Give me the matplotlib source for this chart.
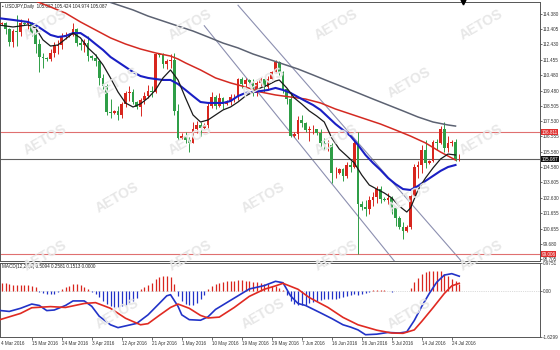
import numpy as np
import matplotlib.pyplot as plt
import matplotlib.transforms as mtransforms

plt.rcParams['font.family'] = ['Liberation Sans', 'DejaVu Sans']

# USDJPY daily, 4 Mar 2016 - 26 Jul 2016 (broker with Sunday bars)
first_open = 113.85
closes = [113.77, 113.80, 113.40, 112.62, 113.30, 113.25, 113.80, 113.75, 113.80, 113.15,
          112.45, 111.60, 111.55, 111.50, 111.90, 112.35, 112.40, 113.00, 113.00, 113.05,
          113.40, 112.55, 112.40, 112.55, 111.70, 111.55, 111.35, 110.30, 109.75, 108.10,
          108.05, 108.15, 107.95, 108.60, 109.35, 109.40, 108.75, 108.40, 108.85, 109.15,
          109.45, 109.40, 111.80, 111.75, 111.15, 111.40, 111.45, 108.15, 106.45, 106.60,
          106.30, 106.10, 107.00, 107.25, 107.10, 107.30, 108.50, 109.10, 108.50, 109.00,
          108.60, 108.75, 109.05, 109.05, 110.20, 109.90, 110.15, 110.05, 109.30, 109.95,
          110.20, 109.70, 110.25, 110.65, 111.30, 110.70, 109.55, 108.95, 106.55, 106.70,
          107.60, 107.40, 106.95, 107.00, 107.00, 106.75, 106.10, 106.00, 106.00, 104.20,
          104.20, 104.45, 104.00, 104.75, 104.60, 106.10, 102.25, 102.00, 101.90, 102.50,
          102.70, 103.20, 102.55, 102.50, 102.60, 101.95, 101.35, 100.75, 100.50, 100.75,
          102.75, 104.60, 104.70, 105.70, 104.85, 104.95, 106.20, 106.15, 107.05, 105.80,
          106.10, 106.20, 105.08, 105.087]
highs = [114.08, 113.90, 113.90, 113.50, 113.40, 114.30, 114.05, 113.85, 114.15, 113.90,
         113.60, 112.80, 111.90, 111.60, 112.15, 112.60, 112.70, 113.15, 113.25, 113.15,
         113.80, 113.50, 112.80, 112.75, 112.95, 111.75, 111.85, 111.40, 110.55, 109.90,
         108.95, 108.25, 108.50, 108.75, 109.45, 109.75, 109.55, 108.80, 109.00, 109.40,
         109.85, 109.80, 111.90, 111.85, 111.90, 111.50, 111.85, 111.90, 108.60, 106.75,
         106.80, 106.50, 107.50, 107.55, 107.45, 107.40, 108.70, 109.40, 109.20, 109.35,
         109.10, 108.85, 109.25, 109.25, 110.30, 110.35, 110.30, 110.20, 110.25, 110.10,
         110.35, 110.25, 110.40, 110.75, 111.45, 111.40, 110.75, 109.60, 109.40, 106.85,
         107.85, 107.90, 107.50, 107.20, 107.25, 107.05, 107.00, 106.45, 106.35, 106.10,
         104.60, 104.55, 104.55, 104.90, 105.00, 106.30, 106.81, 102.40, 102.45, 102.75,
         103.00, 103.40, 103.40, 102.65, 102.90, 102.75, 101.95, 101.45, 101.10, 100.85,
         102.90, 104.80, 105.00, 106.00, 106.30, 105.05, 106.35, 106.40, 107.20, 107.49,
         106.55, 106.30, 106.40, 105.424]
lows = [113.00, 113.70, 113.10, 112.35, 112.30, 112.35, 112.95, 113.65, 113.45, 112.95,
        111.90, 110.67, 110.95, 111.40, 111.35, 111.65, 111.85, 112.15, 112.80, 112.90,
        113.00, 112.35, 112.05, 111.95, 111.35, 111.45, 111.05, 109.85, 109.60, 107.95,
        107.70, 108.00, 107.63, 107.70, 108.45, 108.80, 108.60, 108.30, 107.85, 108.60,
        109.00, 109.05, 109.35, 111.65, 110.95, 110.85, 110.95, 107.90, 106.30, 106.40,
        106.15, 105.55, 106.10, 106.75, 106.60, 107.05, 107.10, 108.35, 108.30, 108.40,
        108.30, 108.55, 108.55, 108.75, 108.90, 109.65, 109.55, 109.95, 109.15, 109.15,
        109.75, 109.40, 109.50, 110.20, 110.60, 110.45, 109.30, 108.60, 106.50, 106.50,
        106.40, 107.15, 106.80, 106.25, 106.70, 106.65, 105.90, 105.65, 105.60, 103.55,
        103.90, 104.15, 103.70, 103.90, 104.25, 104.50, 99.02, 101.85, 101.45, 101.60,
        102.10, 102.30, 102.30, 102.40, 102.20, 101.60, 100.80, 100.65, 99.98, 100.45,
        100.60, 102.70, 103.90, 104.20, 104.50, 104.80, 104.90, 105.70, 106.05, 105.55,
        105.55, 105.95, 104.95, 104.974]
opens = [first_open] + closes[:-1]

# moving averages (bar index, price)
black_idx = [0, 4, 8, 10, 12, 14, 16, 18, 20, 22, 24, 26, 28, 30, 32, 34, 36, 38, 40, 42,
             44, 46, 48, 50, 52, 54, 56, 58, 60, 62, 64, 66, 68, 70, 72, 74, 75, 77, 79, 81,
             83, 85, 87, 89, 91, 93, 95, 97, 99, 101, 103, 105, 107, 109, 110, 112, 114, 116,
             118, 120, 122]
black_val = [113.68, 113.55, 113.68, 113.49, 112.72, 112.33, 112.40, 112.78, 113.16, 112.85,
             112.21, 111.76, 111.12, 110.29, 109.39, 108.69, 108.43, 108.63, 109.01, 109.52,
             110.29, 110.80, 110.16, 109.01, 107.92, 107.47, 107.60, 107.92, 108.24, 108.43,
             108.75, 109.13, 109.39, 109.65, 109.84, 110.09, 110.16, 109.65, 109.01, 108.62,
             108.18, 107.85, 107.47, 106.45, 105.74, 105.30, 104.85, 104.08, 103.44, 103.18,
             102.93, 102.61, 102.09, 101.71, 101.97, 103.12, 103.89, 104.53, 105.10, 105.42,
             105.36]
blue_idx = [0, 4, 8, 10, 12, 14, 16, 18, 20, 22, 24, 26, 28, 30, 32, 34, 36, 38, 40, 42,
            44, 46, 48, 50, 52, 54, 56, 58, 60, 62, 64, 66, 68, 70, 72, 74, 76, 78, 80, 82,
            84, 86, 88, 90, 92, 94, 96, 98, 100, 102, 104, 106, 108, 110, 112, 114, 116, 118,
            120, 122]
blue_val = [114.12, 114.00, 113.87, 113.68, 113.36, 113.04, 112.91, 112.97, 113.16, 113.16,
            112.85, 112.46, 112.08, 111.63, 111.31, 110.99, 110.67, 110.41, 110.29, 110.22,
            110.16, 110.16, 109.90, 109.52, 109.13, 108.75, 108.69, 108.69, 108.69, 108.81,
            109.13, 109.33, 109.39, 109.45, 109.52, 109.65, 109.52, 109.33, 109.07, 108.81,
            108.56, 108.24, 107.79, 107.34, 106.96, 106.57, 106.00, 105.36, 104.85, 104.40,
            103.89, 103.50, 103.18, 103.12, 103.38, 103.70, 104.02, 104.34, 104.59, 104.72]
red_idx = [8, 10, 14, 18, 22, 26, 30, 34, 38, 42, 46, 48, 50, 54, 58, 62, 66, 70, 74, 78,
           82, 86, 90, 94, 98, 102, 106, 110, 114, 118, 122]
red_val = [115.60, 115.21, 114.83, 114.44, 113.87, 113.36, 112.85, 112.46, 112.14, 111.89,
           111.69, 111.50, 111.25, 110.80, 110.29, 109.97, 109.71, 109.39, 109.20, 109.07,
           108.94, 108.69, 108.30, 107.98, 107.66, 107.34, 106.96, 106.57, 106.13, 105.55,
           105.04]
gray_idx = [24, 28, 32, 36, 40, 44, 48, 52, 56, 60, 64, 68, 72, 76, 80, 84, 88, 92, 96, 100,
            104, 108, 112, 116, 120, 122]
gray_val = [115.79, 115.28, 114.96, 114.64, 114.25, 113.93, 113.61, 113.29, 112.91, 112.52,
            112.21, 111.82, 111.50, 111.18, 110.86, 110.48, 110.09, 109.71, 109.33, 108.94,
            108.56, 108.18, 107.79, 107.47, 107.28, 107.21]

# trend channel (bar index, price)
chan_a_idx = [64, 124]
chan_a_val = [114.94, 98.45]
chan_b_idx = [55, 106]
chan_b_val = [113.63, 98.48]

brexit_high = 106.811
brexit_low = 99.006
last_close = 105.087

# MACD(12,26,9)
hist = [0.30, 0.28, 0.26, 0.22, 0.21, 0.20, 0.20, 0.19, 0.19, 0.17,
        0.12, -0.03, -0.08, -0.12, -0.12, -0.10, -0.06, 0.05, 0.12, 0.18,
        0.24, 0.24, 0.20, 0.12, 0.05, -0.04, -0.12, -0.22, -0.35, -0.48,
        -0.55, -0.58, -0.58, -0.55, -0.50, -0.45, -0.35, -0.25, 0.05, 0.12,
        0.20, 0.28, 0.42, 0.48, 0.52, 0.52, 0.48, 0.22, -0.20, -0.38,
        -0.48, -0.52, -0.50, -0.42, -0.30, -0.15, 0.05, 0.15, 0.22, 0.28,
        0.32, 0.34, 0.35, 0.35, 0.36, 0.36, 0.35, 0.33, 0.30, 0.30,
        0.28, 0.25, 0.22, 0.18, 0.15, 0.10, 0.03, -0.15, -0.35, -0.48,
        -0.52, -0.52, -0.50, -0.45, -0.40, -0.35, -0.32, -0.30, -0.28, -0.30,
        -0.28, -0.25, -0.22, -0.18, -0.15, -0.10, -0.15, -0.12, -0.08, -0.05,
        0.02, 0.03, 0.02, 0.01, -0.02, -0.03, -0.02, -0.01, -0.02, -0.01,
        0.10, 0.30, 0.45, 0.58, 0.65, 0.68, 0.70, 0.70, 0.68, 0.60,
        0.50, 0.42, 0.35, 0.25]
macd_idx = [0, 3, 6, 9, 11, 13, 15, 18, 20, 23, 25, 27, 30, 32, 34, 37, 40, 43, 45, 46,
            48, 49, 51, 54, 56, 58, 63, 67, 71, 74, 76, 78, 80, 82, 86, 89, 92, 94, 96, 98,
            101, 104, 107, 109, 111, 113, 115, 117, 119, 121, 123]
macd_val = [-0.69, -0.73, -0.62, -0.47, -0.52, -0.70, -0.68, -0.52, -0.36, -0.36,
            -0.55, -0.90, -1.20, -1.30, -1.24, -1.15, -0.85, -0.45, -0.18, -0.14,
            -0.55, -0.85, -1.02, -1.04, -0.92, -0.66, -0.26, 0.06, 0.18, 0.33,
            0.28, -0.18, -0.45, -0.52, -0.78, -0.98, -1.20, -1.28, -1.38, -1.55,
            -1.53, -1.47, -1.49, -1.45, -1.05, -0.55, -0.10, 0.30, 0.55, 0.60,
            0.51]
sig_idx = [0, 6, 9, 14, 18, 23, 26, 30, 34, 38, 40, 43, 46, 48, 51, 54, 56, 59, 63, 67,
           71, 74, 76, 80, 83, 88, 92, 96, 101, 105, 108, 111, 113, 116, 119, 121, 123]
sig_val = [-1.04, -0.80, -0.60, -0.56, -0.59, -0.45, -0.42, -0.62, -0.97, -1.20,
           -1.16, -0.87, -0.59, -0.47, -0.62, -0.87, -0.96, -0.93, -0.59, -0.20,
           0.05, 0.17, 0.26, 0.05, -0.24, -0.59, -0.94, -1.20, -1.39, -1.49,
           -1.50, -1.38, -1.08, -0.60, -0.10, 0.17, 0.26]

price_ticks = [114.380, 113.405, 112.430, 111.455, 110.480, 109.480, 108.505, 107.530,
               106.555, 105.580, 104.580, 103.605, 102.630, 101.655, 100.655, 99.680, 98.705]
date_idx = [0, 9, 17, 25, 33, 41, 49, 57, 65, 73, 81, 89, 97, 105, 113, 121]
date_labels = ['4 Mar 2016', '15 Mar 2016', '24 Mar 2016', '3 Apr 2016', '12 Apr 2016',
               '21 Apr 2016', '1 May 2016', '10 May 2016', '19 May 2016', '29 May 2016',
               '7 Jun 2016', '16 Jun 2016', '26 Jun 2016', '5 Jul 2016', '14 Jul 2016',
               '24 Jul 2016']

UP = '#d8261e'
DOWN = '#2f9e47'
FS = 3.3

fig = plt.figure(figsize=(5.6, 3.5), dpi=100)
ax = fig.add_axes([0.0, 1 - 261 / 350, 540 / 560, 259 / 350])
ax2 = fig.add_axes([0.0, 1 - 337 / 350, 540 / 560, 74 / 350])
xlim = (0.53, 144.53)

# watermark, kept inside the picture
for r in range(6):
    for k in range(4):
        wx = 0.08 + k * 0.26 + (r % 2) * 0.13
        if wx < 0.92:
            fig.text(wx, 0.93 - r * 0.165, 'AETOS', rotation=30, color='#e7e7e7',
                     fontsize=10, fontweight='bold', ha='center', va='center', zorder=0)

x = np.arange(len(closes))
o = np.array(opens)
c = np.array(closes)
cols = [UP if cc >= oo else DOWN for oo, cc in zip(o, c)]
ax.vlines(x, lows, highs, colors=cols, lw=0.7, zorder=3)
body = np.maximum(np.abs(c - o), 0.03)
ax.bar(x, body, bottom=np.minimum(o, c), width=0.7, color=cols, lw=0, zorder=4)

ax.plot(gray_idx, gray_val, color='#5c6272', lw=1.1, zorder=5)
ax.plot(red_idx, red_val, color='#d42a22', lw=1.1, zorder=5)
ax.plot(blue_idx, blue_val, color='#1a1fc4', lw=1.5, zorder=5)
ax.plot(black_idx, black_val, color='#1a1a1a', lw=0.9, zorder=5)
ax.plot(chan_a_idx, chan_a_val, color='#8c8fb0', lw=0.8, zorder=2)
ax.plot(chan_b_idx, chan_b_val, color='#8c8fb0', lw=0.8, zorder=2)

ax.axhline(brexit_high, color='#e07070', lw=0.8, zorder=2)
ax.axhline(brexit_low, color='#e07070', lw=0.8, zorder=2)
ax.axhline(last_close, color='#606060', lw=0.8, zorder=2)

ax.plot([len(closes)], [1.0], marker='v', color='black', ms=3.5,
        transform=mtransforms.blended_transform_factory(ax.transData, ax.transAxes),
        clip_on=False, zorder=6)

ax.set_xlim(*xlim)
ax.set_ylim(98.577, 115.148)
ax.yaxis.tick_right()
ax.set_yticks(price_ticks)
ax.set_yticklabels(['%.3f' % v for v in price_ticks])
ax.tick_params(axis='y', labelsize=FS, length=1.2, width=0.5, pad=0.6, colors='#333333')
ax.set_xticks([])

tr = mtransforms.blended_transform_factory(ax.transAxes, ax.transData)
for val, fc in [(brexit_high, '#e03030'), (last_close, '#111111'), (brexit_low, '#e03030')]:
    ax.text(1.003, val, '%.3f' % val, transform=tr, fontsize=FS, color='white',
            va='center', ha='left', zorder=7,
            bbox=dict(boxstyle='square,pad=0.08', fc=fc, ec='none'))

ax.text(0.004, 0.993, '\u25aa USDJPY,Daily  105.082 105.424 104.974 105.087',
        transform=ax.transAxes, fontsize=FS, va='top', ha='left', color='#222222')

# MACD pane
hcols = [UP if h >= 0 else '#2233c8' for h in hist]
ax2.vlines(np.arange(len(hist)), 0, hist, colors=hcols, lw=0.9, zorder=3)
ax2.axhline(0, color='#bbbbbb', lw=0.5, ls=':', zorder=1)
ax2.plot(macd_idx, macd_val, color='#2233c8', lw=1.2, zorder=4)
ax2.plot(sig_idx, sig_val, color='#e02a22', lw=1.2, zorder=4)
ax2.set_xlim(*xlim)
ax2.set_ylim(-1.6299, 0.9751)
ax2.yaxis.tick_right()
ax2.set_yticks([0.9751, 0.0, -1.6299])
ax2.set_yticklabels(['0.9751', '0.00', '-1.6299'])
ax2.tick_params(axis='y', labelsize=FS, length=1.2, width=0.5, pad=0.6, colors='#333333')
ax2.set_xticks([i for i in date_idx if i > xlim[0]])
ax2.set_xticklabels([])
ax2.tick_params(axis='x', length=2, width=0.5, colors='#333333')
trx = mtransforms.blended_transform_factory(ax2.transData, ax2.transAxes)
for i, lab in zip(date_idx, date_labels):
    ax2.text(max(i, xlim[0] + 0.3), -0.05, lab, transform=trx, fontsize=FS,
             ha='left', va='top', color='#333333')
ax2.text(0.004, 0.985, 'MACD(12,26,9) 0.5094 0.2581 0.1513 0.0000',
         transform=ax2.transAxes, fontsize=FS, va='top', ha='left', color='#222222')

for a in (ax, ax2):
    for s in a.spines.values():
        s.set_color('#555555')
        s.set_linewidth(0.7)
    a.set_facecolor('none')

fig.savefig('out.png', dpi=100, facecolor='white')
